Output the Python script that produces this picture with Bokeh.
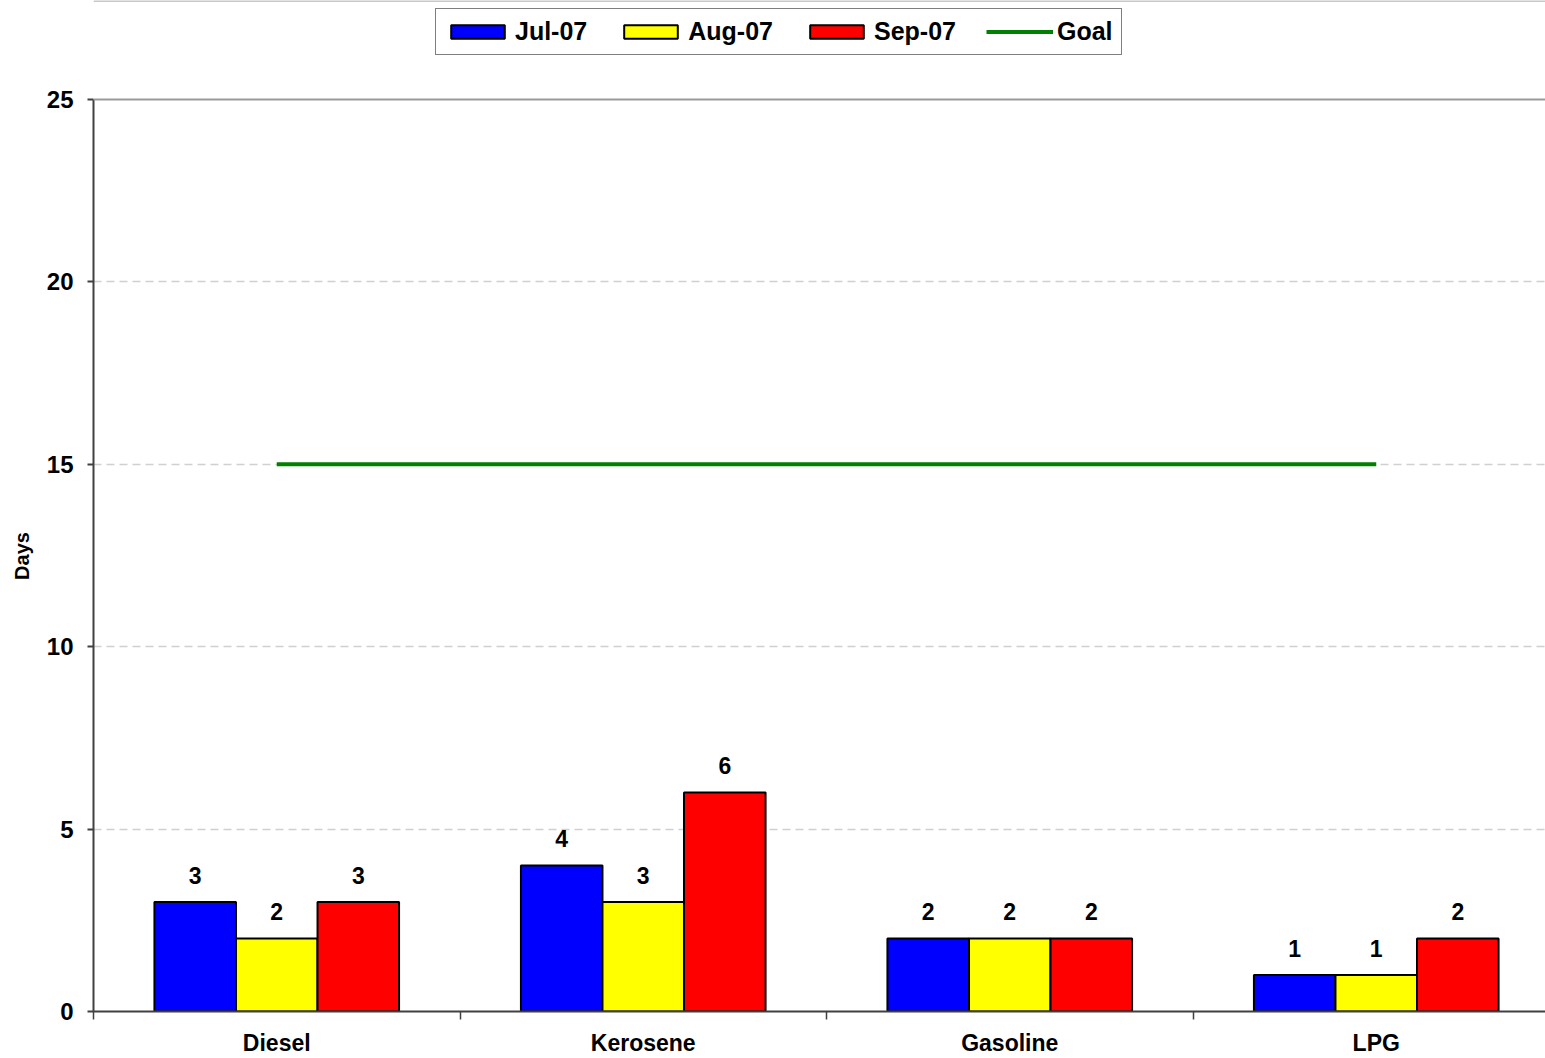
from bokeh.plotting import figure
from bokeh.models import (ColumnDataSource, Range1d, FixedTicker, LinearAxis, Legend,
                          LegendItem, Span)
from bokeh.transform import dodge
from bokeh.core.properties import value
from bokeh.embed import file_html
from bokeh.resources import INLINE

categories = ["Diesel", "Kerosene", "Gasoline", "LPG"]
jul07 = [3, 4, 2, 1]
aug07 = [2, 3, 2, 1]
sep07 = [3, 6, 2, 2]
goal = [15, 15, 15, 15]
series_names = ["Jul-07", "Aug-07", "Sep-07"]
y_ticks = [0, 5, 10, 15, 20, 25]
y_max = 25

FONT = "Liberation Sans"
centers = [i + 0.5 for i in range(len(categories))]
bounds_x = [float(i) for i in range(len(categories))]
src = ColumnDataSource(dict(
    x=centers, jul=jul07, aug=aug07, sep=sep07, goal=goal,
    jul_t=[str(v) for v in jul07], aug_t=[str(v) for v in aug07], sep_t=[str(v) for v in sep07],
))

W, H = 1545, 1058
FRAME_TOP_PAD = 99      # pixels between canvas top and the 25 line
FRAME_BOTTOM = 1011
plot_h = FRAME_BOTTOM - FRAME_TOP_PAD
y_end = y_max * FRAME_BOTTOM / plot_h
x_end = (W - 93) / 366.5

p = figure(width=W, height=H, output_backend="svg", toolbar_location=None,
           x_range=Range1d(0, x_end), y_range=Range1d(0, y_end),
           min_border_left=93, min_border_right=0, min_border_top=0,
           min_border_bottom=H - FRAME_BOTTOM)
p.xaxis.visible = False
p.yaxis.visible = False
p.outline_line_color = None
p.background_fill_color = "white"
p.border_fill_color = "white"

bw = 0.2225
colors = ["#0000FF", "#FFFF00", "#FF0000"]
fields = ["jul", "aug", "sep"]
offs = [-bw, 0.0, bw]
rends = []
for f, c, o in zip(fields, colors, offs):
    r = p.vbar(x=dodge("x", o), top=f, width=bw, bottom=0, source=src,
               fill_color=c, line_color="black", line_width=2)
    rends.append(r)
    p.text(x=dodge("x", o), y=f, text=f + "_t", source=src,
           text_font=value(FONT), text_font_style="bold", text_font_size="23px",
           text_align="center", text_baseline="alphabetic", y_offset=-27, text_color="black")

gl = p.line(x="x", y="goal", source=src, line_color="#008000", line_width=4)

# grid
p.xgrid.visible = False
p.ygrid.ticker = FixedTicker(ticks=[5, 10, 15, 20])
p.ygrid.grid_line_color = "#d0d0d0"
p.ygrid.grid_line_dash = "8 5"
p.ygrid.grid_line_width = 1.5

# top border of plot area and outer chart edge
p.add_layout(Span(location=y_max, dimension="width", line_color="#9a9a9a", line_width=2))
p.add_layout(Span(location=y_end, dimension="width", line_color="#c8c8c8", line_width=3))

# y axis
ya = LinearAxis(ticker=FixedTicker(ticks=y_ticks), axis_label="Days" + "\u00a0" * 18,
                bounds=(0, y_max))
ya.axis_line_color = "#404040"
ya.axis_line_width = 2
ya.major_tick_line_color = "#404040"
ya.major_tick_line_width = 2
ya.major_tick_out = 6
ya.major_tick_in = 0
ya.minor_tick_out = 0
ya.minor_tick_in = 0
ya.major_label_standoff = 14
ya.major_label_text_font = FONT
ya.major_label_text_font_style = "bold"
ya.major_label_text_font_size = "24px"
ya.major_label_text_color = "black"
ya.axis_label_text_font = FONT
ya.axis_label_text_font_style = "bold"
ya.axis_label_text_font_size = "20px"
ya.axis_label_text_color = "black"
ya.axis_label_standoff = 11
p.add_layout(ya, "left")

# x axis: labels at category centres, ticks at category boundaries
xa = LinearAxis(ticker=FixedTicker(ticks=centers, minor_ticks=bounds_x),
                major_label_overrides={c: n for c, n in zip(centers, categories)})
xa.axis_line_color = "#404040"
xa.axis_line_width = 2
xa.major_tick_out = 0
xa.major_tick_in = 0
xa.minor_tick_line_color = "#404040"
xa.minor_tick_line_width = 1.5
xa.minor_tick_out = 8
xa.minor_tick_in = 0
xa.major_label_text_font = FONT
xa.major_label_text_font_style = "bold"
xa.major_label_text_font_size = "23px"
xa.major_label_text_color = "black"
xa.major_label_standoff = 10
p.add_layout(xa, "below")

items = [LegendItem(label=n, renderers=[r]) for n, r in zip(series_names, rends)]
items.append(LegendItem(label="Goal", renderers=[gl]))
leg = Legend(items=items, orientation="horizontal", location=(435 - 93, FRAME_BOTTOM - 55))
leg.border_line_color = "black"
leg.border_line_width = 1
leg.background_fill_color = "white"
leg.background_fill_alpha = 1
leg.padding = 8
leg.margin = 0
leg.spacing = 30
leg.label_standoff = 4
leg.glyph_width = 67
leg.glyph_height = 17
leg.label_text_font = FONT
leg.label_text_font_style = "bold"
leg.label_text_font_size = "25px"
leg.label_text_color = "black"
leg.label_text_baseline = "middle"
p.add_layout(leg, "center")

open("out.html", "w").write(file_html(p, INLINE))
